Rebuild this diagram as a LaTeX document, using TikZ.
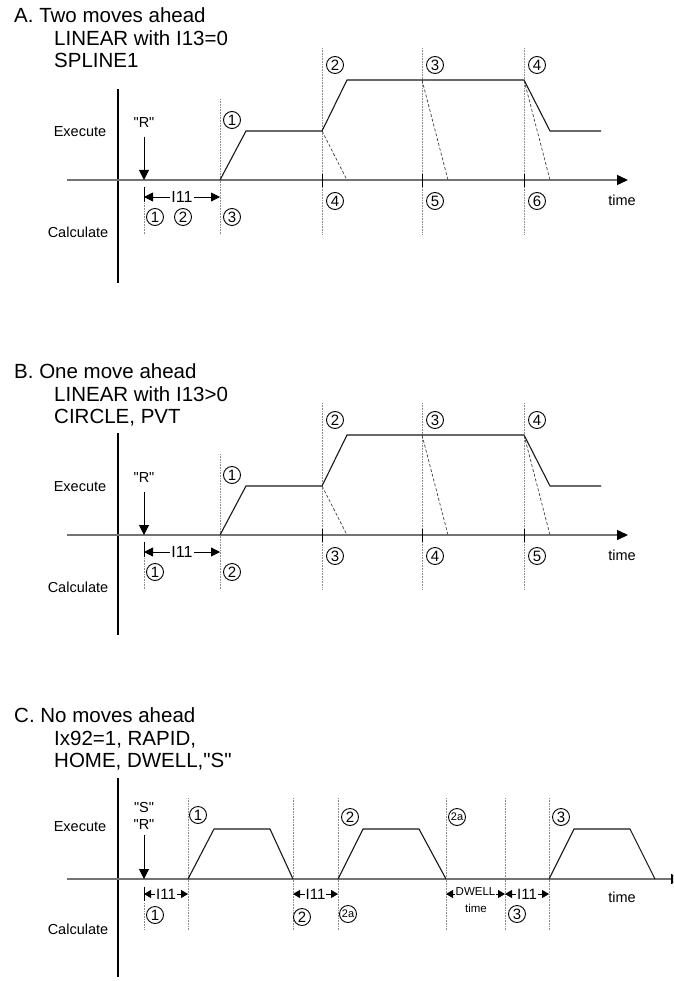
\documentclass[tikz,border=0pt]{standalone}
\usepackage{fontspec}
\setmainfont{Liberation Sans}[Ligatures=TeXOff]
\usetikzlibrary{arrows.meta}
\tikzset{
  hax/.style={draw=black!55, line width=1.5pt, -{Triangle[length=11pt,width=10pt,color=black]}},
  vax/.style={draw=black, line width=1.2pt},
  prof/.style={draw=black!90, line width=1.1pt},
  dsh/.style={draw=black!75, line width=0.7pt, dash pattern=on 3pt off 2pt},
  guide/.style={draw=black!45, line width=0.8pt, dash pattern=on 0.7pt off 0.9pt},
  tickmk/.style={draw=black, line width=1pt},
  num/.style={circle, draw=black, line width=0.9pt, inner sep=0pt, minimum size=17pt, font=\fontsize{15}{15}\selectfont},
  numsm/.style={num, font=\fontsize{11}{11}\selectfont},
  lab/.style={font=\fontsize{14.5}{16}\selectfont, inner sep=0pt},
  smlab/.style={font=\fontsize{11.5}{12}\selectfont, inner sep=0.5pt},
  ttl/.style={font=\fontsize{20.5}{22}\selectfont, anchor=base west, inner sep=0pt},
  dimtxt/.style={font=\fontsize{16}{16}\selectfont, fill=white, inner sep=1.5pt},
  dimtxtC/.style={font=\fontsize{15}{15}\selectfont, fill=white, inner sep=0.8pt},
  dimA/.style={draw=black, line width=0.8pt, {Triangle[length=9pt,width=9pt]}-{Triangle[length=9pt,width=9pt]}},
  dimC/.style={draw=black, line width=0.8pt, {Triangle[length=7pt,width=8pt]}-{Triangle[length=7pt,width=8pt]}},
  rarr/.style={draw=black, line width=1pt, -{Triangle[length=10pt,width=10pt]}},
}
% common parts of sections A and B (coordinates in section-A frame)
\newcommand\mvcommon{%
  \coordinate (x0) at (67,180); \coordinate (x1) at (628,180);
  \draw[guide] (144,203) -- (144,235);
  \draw[guide] (220,99) -- (220,235);
  \foreach \gx in {322,422,524} {\draw[guide] (\gx,48) -- (\gx,235);}
  \draw[hax] (x0) -- (x1);
  \foreach \gx in {322,422,524} {\draw[tickmk] (\gx,174) -- (\gx,187);}
  \draw[tickmk] (144,187) -- (144,202);
  \node[lab] (exe) at (80,132) {Execute};
  \node[lab] (calc) at (78,232) {Calculate};
  \node[lab] (rlab) at (144,123) {"R"};
  \coordinate (rtop) at (144,137); \coordinate (rbot) at (144,180);
  \draw[rarr] (rtop) -- (rbot);
  \coordinate (ia) at (144,197); \coordinate (ib) at (220,197);
  \draw[dimA] (ia) -- (ib) node[midway, dimtxt] (i11) {I11};
  \draw[prof] (220,180) -- (246,131) -- (322,131) -- (347,80) -- (524,80) -- (550,131) -- (601,131);
  \draw[dsh] (322,131) -- (347,180);
  \draw[dsh] (422,80) -- (448,180);
  \draw[dsh] (524,80) -- (550,180);
  \node[num] (u1) at (232,120) {1};
  \node[num] (u2) at (335,65) {2};
  \node[num] (u3) at (435,65) {3};
  \node[num] (u4) at (537,65) {4};
  \node[lab] (time) at (622,200) {time};
}
\begin{document}
\begin{tikzpicture}[x=1pt, y=-1pt]
\useasboundingbox (0,0) rectangle (673,981);
\fill[white] (0,0) rectangle (673,981);
\begin{scope}
\clip (0,0) rectangle (673,981);

% ---------------- Section A ----------------
\begin{scope}[name prefix=A-]
  \node[ttl] (t1) at (14,23) {A. Two moves ahead};
  \node[ttl] (t2) at (54,46) {LINEAR with I13=0};
  \node[ttl] (t3) at (54,68) {SPLINE1};
  \draw[vax] (118,89) -- (118,283);
  \mvcommon
  \node[num] (l1) at (155,217) {1};
  \node[num] (l2) at (183,217) {2};
  \node[num] (l3) at (232,217) {3};
  \node[num] (l4) at (335,201) {4};
  \node[num] (l5) at (435,201) {5};
  \node[num] (l6) at (537,201) {6};
\end{scope}

% ---------------- Section B ----------------
\begin{scope}[yshift=-355pt, name prefix=B-]
  \node[ttl] (t1) at (14,23) {B. One move ahead};
  \node[ttl] (t2) at (54,46) {LINEAR with I13>0};
  \node[ttl] (t3) at (54,68) {CIRCLE, PVT};
  \draw[vax] (118,78) -- (118,280);
  \mvcommon
  \node[num] (l1) at (155,217) {1};
  \node[num] (l2) at (232,217) {2};
  \node[num] (l3) at (335,201) {3};
  \node[num] (l4) at (435,201) {4};
  \node[num] (l5) at (537,201) {5};
\end{scope}

% ---------------- Section C ----------------
\begin{scope}[name prefix=C-]
  \node[ttl] (t1) at (14,722) {C. No moves ahead};
  \node[ttl] (t2) at (54,745) {Ix92=1, RAPID,};
  \node[ttl] (t3) at (54,767) {HOME, DWELL,"S"};
  \draw[vax] (118,778) -- (118,977);
  \draw[guide] (144,903) -- (144,930);
  \foreach \gx in {188,293,338,446,505,549} {\draw[guide] (\gx,798) -- (\gx,930);}
  \coordinate (x0) at (67,879); \coordinate (x1) at (682,879);
  \draw[hax] (x0) -- (x1);
  \draw[tickmk] (144,887) -- (144,901);
  \node[lab] (exe) at (80,827) {Execute};
  \node[lab] (calc) at (78,929) {Calculate};
  \node[lab] (slab) at (144,807) {"S"};
  \node[lab] (rlab) at (144,825) {"R"};
  \coordinate (rtop) at (144,835); \coordinate (rbot) at (144,879);
  \draw[rarr] (rtop) -- (rbot);
  % profiles
  \draw[prof] (188,879) -- (214,829) -- (270,829) -- (293,879);
  \draw[prof] (338,879) -- (363,829) -- (419,829) -- (446,879);
  \draw[prof] (549,879) -- (574,829) -- (630,829) -- (655,879);
  % dimensions
  \coordinate (d1a) at (144,894); \coordinate (d1b) at (188,894);
  \coordinate (d2a) at (293,894); \coordinate (d2b) at (338,894);
  \coordinate (d3a) at (446,894); \coordinate (d3b) at (505,894);
  \coordinate (d4a) at (505,894); \coordinate (d4b) at (549,894);
  \draw[dimC] (d1a) -- (d1b) node[midway, dimtxtC] (i1) {I11};
  \draw[dimC] (d2a) -- (d2b) node[midway, dimtxtC] (i2) {I11};
  \draw[dimC] (d3a) -- (d3b) node[midway, smlab, fill=white, yshift=2pt] (dw) {DWELL};
  \draw[dimC] (d4a) -- (d4b) node[midway, dimtxtC] (i3) {I11};
  \node[smlab] (dwt) at (476,908) {time};
  % circled numbers
  \node[num] (u1) at (198,815) {1};
  \node[num] (u2) at (350,817) {2};
  \node[numsm] (u2a) at (457,817) {2a};
  \node[num] (u3) at (561,817) {3};
  \node[num] (l1) at (155,915) {1};
  \node[num] (l2) at (302,917) {2};
  \node[numsm] (l2a) at (348,914) {2a};
  \node[num] (l3) at (517,914) {3};
  \node[lab] (time) at (622,897) {time};
\end{scope}
\end{scope}
\end{tikzpicture}
\end{document}
